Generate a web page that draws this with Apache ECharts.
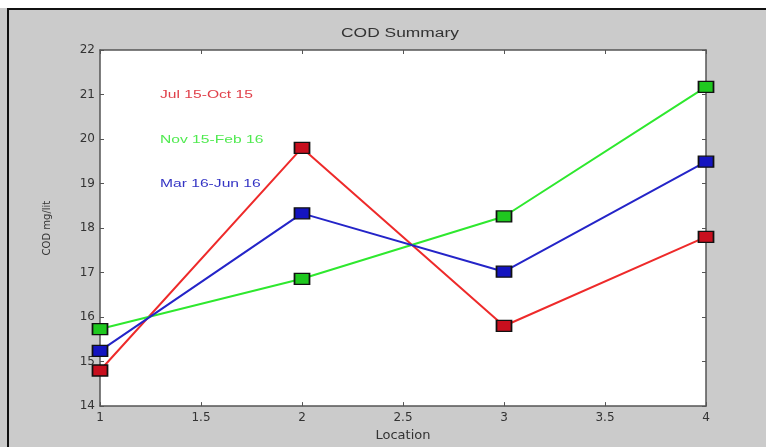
<!DOCTYPE html>
<html>
<head>
<meta charset="utf-8">
<script src="https://cdn.jsdelivr.net/npm/echarts@6/dist/echarts.min.js"></script>
<style>
html,body{margin:0;padding:0;background:#fff;}
#c{width:766px;height:447px;}
</style>
</head>
<body>
<div id="c"></div>
<script>
const locations = [1, 2, 3, 4];
const seriesNames = ['Jul 15-Oct 15', 'Nov 15-Feb 16', 'Mar 16-Jun 16'];
const julOct = [14.8, 19.8, 15.8, 17.8];
const novFeb = [15.73, 16.86, 18.26, 21.17];
const marJun = [15.24, 18.33, 17.02, 19.49];
const yTicks = [14, 15, 16, 17, 18, 19, 20, 21, 22];
const xTicks = [1, 1.5, 2, 2.5, 3, 3.5, 4];

const lineColors = ['#ee2a2a', '#2ee82e', '#2424c8'];
const markColors = ['#c80f1e', '#1fc81f', '#1414c0'];
const textColors = ['#e0404a', '#50ea50', '#3434c4'];
const allData = [julOct, novFeb, marJun];

const chart = echarts.init(document.getElementById('c'));
const axisLine = {show: true, lineStyle: {color: '#555', width: 1.5}};
const tickStyle = {show: true, inside: true, length: 4, lineStyle: {color: '#555'}};
const lbl = {color: '#333', fontFamily: 'DejaVu Sans', fontSize: 12};

function annot(i, top) {
  return {type: 'text', x: 160, y: top, scaleX: 1.42, scaleY: 1,
    style: {text: seriesNames[i], fill: textColors[i], font: '11px Liberation Sans, Arial', textVerticalAlign: 'middle'}};
}

chart.setOption({
  backgroundColor: '#cbcbcb',
  animation: false,
  graphic: [
    {type: 'rect', shape: {x: 8, y: 9, width: 800, height: 500}, style: {fill: 'none', stroke: '#111', lineWidth: 2}, silent: true},
    {type: 'rect', shape: {x: 0, y: 0, width: 766, height: 8}, style: {fill: '#fff'}, silent: true, z: -1},
    {type: 'text', x: 400, y: 34, scaleX: 1.45,
     style: {text: 'COD Summary', fill: '#333', font: '12px Liberation Sans, Arial', textAlign: 'center', textVerticalAlign: 'middle'}},
    annot(0, 95), annot(1, 140), annot(2, 184)
  ],
  grid: {left: 100, top: 50, right: 60, bottom: 39, show: true, backgroundColor: '#fff', borderWidth: 0},
  xAxis: [
    {type: 'value', min: 1, max: 4, interval: 0.5, position: 'bottom',
     name: 'Location', nameLocation: 'middle', nameGap: 22,
     nameTextStyle: {color: '#333', fontFamily: 'DejaVu Sans', fontSize: 13},
     axisLine: axisLine, axisTick: tickStyle, splitLine: {show: false},
     axisLabel: Object.assign({margin: 6, formatter: v => String(v)}, lbl)},
    {type: 'value', min: 1, max: 4, interval: 0.5, position: 'top',
     axisLine: axisLine, axisTick: tickStyle, splitLine: {show: false}, axisLabel: {show: false}}
  ],
  yAxis: [
    {type: 'value', min: 14, max: 22, interval: 1, position: 'left',
     name: 'COD mg/lit', nameLocation: 'middle', nameGap: 48, nameRotate: 90,
     nameTextStyle: {color: '#333', fontFamily: 'DejaVu Sans', fontSize: 10},
     axisLine: axisLine, axisTick: tickStyle, splitLine: {show: false},
     axisLabel: Object.assign({margin: 5}, lbl)},
    {type: 'value', min: 14, max: 22, interval: 1, position: 'right',
     axisLine: axisLine, axisTick: tickStyle, splitLine: {show: false}, axisLabel: {show: false}}
  ],
  series: allData.map((d, i) => ({
    name: seriesNames[i],
    type: 'line',
    data: locations.map((x, j) => [x, d[j]]),
    symbol: 'rect',
    symbolSize: [15, 11],
    showAllSymbol: true,
    lineStyle: {color: lineColors[i], width: 2},
    itemStyle: {color: markColors[i], borderColor: '#111', borderWidth: 1.5},
    z: 3 + i
  }))
});
</script>
</body>
</html>
